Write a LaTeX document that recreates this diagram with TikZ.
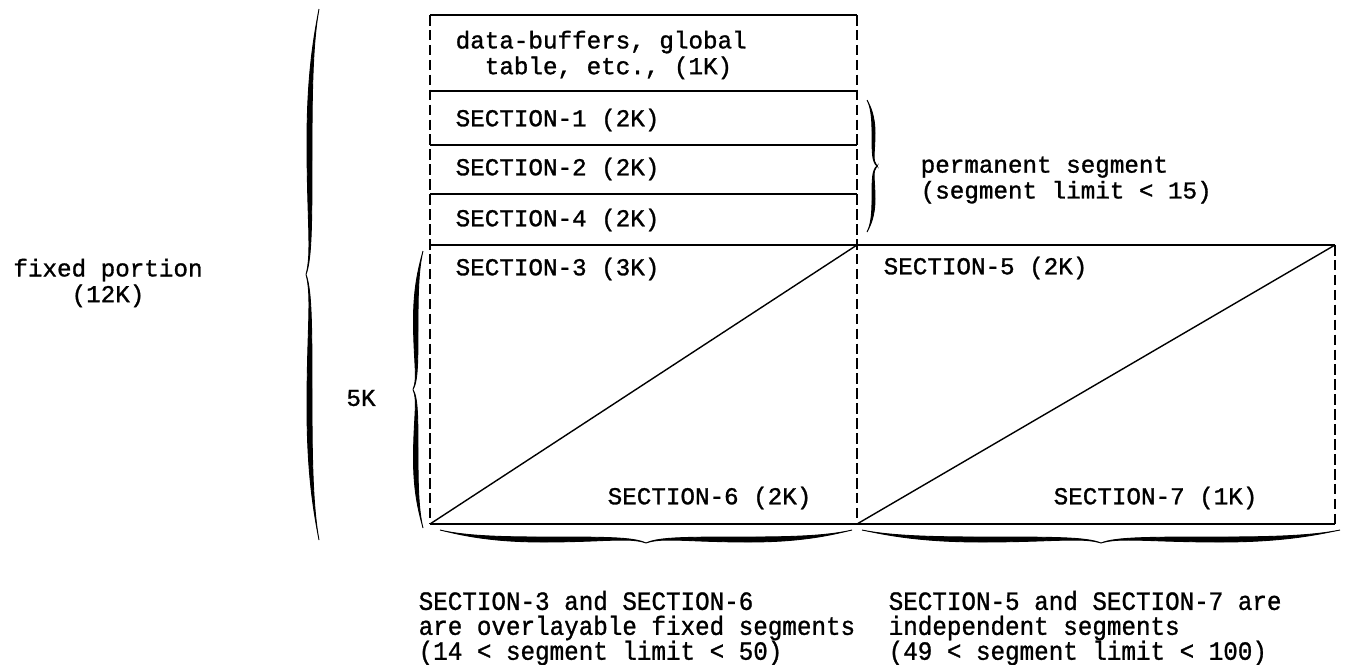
\documentclass[tikz,border=0pt]{standalone}
\usepackage{fontspec}
\newfontfamily\typefont{Liberation Mono}[FakeBold=1.2]
\newfontfamily\notefont{Liberation Mono}[FakeBold=1, FakeStretch=0.92]
\usetikzlibrary{calc}
% one half of an inked brace: length, tip depth, body offset, thickness
\def\halfbrace#1#2#3#4{\filldraw[line width=0.5pt] (0,0) .. controls ({-0.7*#3},{0.05*#1}) and ({-#3-#4},{0.12*#1}) .. ({-#3-#4},{0.25*#1}) .. controls ({-#3-#4},{0.40*#1}) and ({-#3},{0.46*#1}) .. ({-#2},{0.5*#1}) .. controls ({-#3},{0.47*#1}) and ({-#3},{0.40*#1}) .. ({-#3},{0.25*#1}) .. controls ({-#3},{0.12*#1}) and ({-0.7*#3},{0.05*#1}) .. (0,0) -- cycle;}
\def\calbrace[#1]#2#3#4#5{\begin{scope}[#1]\halfbrace{#2}{#3}{#4}{#5}\begin{scope}[shift={(0,#2)},yscale=-1]\halfbrace{#2}{#3}{#4}{#5}\end{scope}\end{scope}}
\tikzset{
  sect/.style={font=\typefont\fontsize{13.8}{14.7}\selectfont, inner sep=0pt, anchor=west, align=left},
  note/.style={font=\notefont\fontsize{15}{14.2}\selectfont, inner sep=0pt, anchor=west, align=left},
  wall/.style={dash pattern=on 6pt off 2.5pt, line width=1pt}
}
\begin{document}
\begin{tikzpicture}[x=0.02cm, y=-0.02cm, line width=0.8pt]
		\useasboundingbox (0,0) rectangle (1356,664);
		%%%%% MEMORY MAP %%%%%
		\draw (430,15) -- (857,15);
		\draw (430,91) -- (857,91);
		\draw (430,145) -- (857,145);
		\draw (430,194) -- (857,194);
		\draw (430,245) -- (1335,245);
		\draw (430,524) -- (1335,524);
		
		\draw[wall] (430,15) -- (430,524);
		\draw[wall] (857,15) -- (857,524);
		\draw[wall] (1335,245) -- (1335,524);
		
		\draw (430,524) -- (857,245);
		\draw (857,524) -- (1335,245);
		
		\node[sect] (buf) at (455,55) {data-buffers, global\\\hphantom{ta}table, etc., (1K)};
		\node[sect] (sec1) at (455,120) {SECTION-1 (2K)};
		\node[sect] (sec2) at (455,169) {SECTION-2 (2K)};
		\node[sect] (sec4) at (455,220) {SECTION-4 (2K)};
		\node[sect] (sec3) at (455,269) {SECTION-3 (3K)};
		\node[sect] (sec5) at (883,268) {SECTION-5 (2K)};
		\node[sect] (sec6) at (607,498) {SECTION-6 (2K)};
		\node[sect] (sec7) at (1053,498) {SECTION-7 (1K)};
		
		%%%%% BRACES %%%%%
		\calbrace[shift={(319,9)}]{531}{13}{7}{5}
		\calbrace[shift={(423,251)}]{277}{10}{5}{4.5}
		\calbrace[shift={(867,100)}, xscale=-1]{132}{10}{5}{3}
		\calbrace[shift={(440,530)}, rotate=90]{412}{13}{7}{5}
		\calbrace[shift={(862,530)}, rotate=90]{478}{13}{7}{5}
		
		\node[sect, anchor=center, align=center] (fixed) at (108,283) {fixed portion\\(12K)};
		\node[sect, anchor=center] (five) at (361,398) {5K};
		\node[sect] (perm) at (920,180) {permanent segment\\(segment limit < 15)};
		\node[note] (ovl) at (418,628) {SECTION-3 and SECTION-6\\are overlayable fixed segments\\(14 < segment limit < 50)};
		\node[note] (ind) at (888,628) {SECTION-5 and SECTION-7 are\\independent segments\\(49 < segment limit < 100)};
		%%%%% END %%%%%
\end{tikzpicture}
\end{document}
